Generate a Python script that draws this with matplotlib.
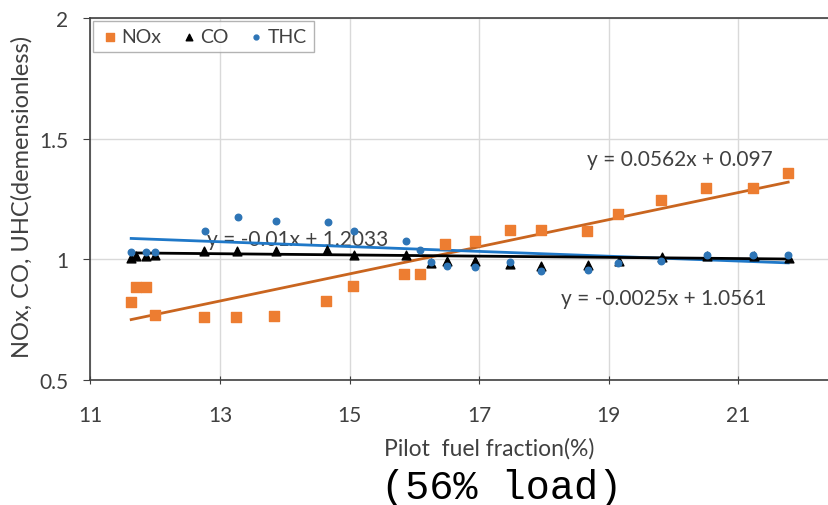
import matplotlib
matplotlib.use('Agg')
import matplotlib.pyplot as plt
import numpy as np

# data
nox_x = [11.63, 11.70, 11.86, 12.0, 12.75, 13.25, 13.83, 14.63, 15.05, 15.84, 16.09,
         16.48, 16.93, 17.47, 17.96, 18.67, 19.14, 19.80, 20.50, 21.22, 21.77]
nox_y = [0.825, 0.885, 0.885, 0.768, 0.76, 0.76, 0.767, 0.826, 0.89, 0.94, 0.94,
         1.065, 1.076, 1.12, 1.12, 1.117, 1.187, 1.246, 1.298, 1.298, 1.36]

co_x = [11.63, 11.70, 11.86, 12.0, 12.75, 13.26, 13.86, 14.65, 15.07, 15.87, 16.25,
        16.50, 16.94, 17.48, 17.96, 18.68, 19.16, 19.82, 20.51, 21.24, 21.78]
co_y = [1.005, 1.015, 1.015, 1.02, 1.034, 1.034, 1.036, 1.037, 1.02, 1.02, 0.986,
        0.993, 0.993, 0.982, 0.972, 0.975, 0.993, 1.01, 1.013, 1.013, 1.007]

thc_x = [11.63, 11.86, 12.0, 12.77, 13.28, 13.87, 14.66, 15.07, 15.87, 16.09, 16.25,
         16.50, 16.94, 17.47, 17.96, 18.68, 19.15, 19.80, 20.51, 21.23, 21.77]
thc_y = [1.03, 1.03, 1.03, 1.117, 1.177, 1.16, 1.155, 1.117, 1.076, 1.04, 0.99,
         0.972, 0.97, 0.99, 0.951, 0.955, 0.986, 0.993, 1.02, 1.02, 1.02]

# trendline coefficients as printed on the chart
nox_fit = (0.0562, 0.097)
co_fit = (-0.0025, 1.0561)
thc_fit = (-0.01, 1.2033)

ORANGE = '#ED7D31'
ORANGE_LINE = '#C9651F'
BLUE = '#2E75B6'
BLUE_LINE = '#1F78C8'
TXT = '#404040'

plt.rcParams['font.family'] = ['Lato', 'DejaVu Sans']

fig = plt.figure(figsize=(8.29, 5.06), dpi=100)
ax = fig.add_axes([0.109, 0.247, 0.891, 0.715])

fx = np.array([min(nox_x), max(nox_x)])
ax.plot(fx, nox_fit[0] * fx + nox_fit[1], color=ORANGE_LINE, lw=2.0, zorder=2)
ax.plot(fx, thc_fit[0] * fx + thc_fit[1], color=BLUE_LINE, lw=2.0, zorder=2)
ax.plot(fx, co_fit[0] * fx + co_fit[1], color='black', lw=2.0, zorder=2)

ax.scatter(nox_x, nox_y, marker='s', s=50, color=ORANGE, label='NOx', zorder=3)
ax.scatter(co_x, co_y, marker='^', s=40, color='black', label='CO', zorder=4)
ax.scatter(thc_x, thc_y, marker='o', s=22, color=BLUE, label='THC', zorder=4)

ax.text(20.1, 1.415, 'y = 0.0562x + 0.097', fontsize=15, color=TXT, ha='center', va='center')
ax.text(19.85, 0.842, 'y = -0.0025x + 1.0561', fontsize=15, color=TXT, ha='center', va='center')
ax.text(14.2, 1.083, 'y = -0.01x + 1.2033', fontsize=15, color=TXT, ha='center', va='center', zorder=1.5)

ax.set_xlim(11, 22.4)
ax.set_ylim(0.5, 2)
ax.set_xticks([11, 13, 15, 17, 19, 21])
ax.set_yticks([0.5, 1, 1.5, 2])
ax.set_yticklabels(['0.5', '1', '1.5', '2'])
ax.tick_params(labelsize=15, colors=TXT)
ax.tick_params(axis='x', direction='inout', length=6, pad=15)
ax.tick_params(axis='y', direction='out', length=5, pad=11)
ax.grid(True, color='#D9D9D9', lw=1)
ax.set_axisbelow(True)
for s in ['left', 'bottom', 'top']:
    ax.spines[s].set_color('#404040')
    ax.spines[s].set_linewidth(1.2)
ax.spines['right'].set_visible(False)

ax.set_xlabel('Pilot  fuel fraction(%)', fontsize=16.5, color=TXT, va='center')
ax.xaxis.set_label_coords(0.54, -0.188)
ax.set_ylabel('NOx, CO, UHC(demensionless)', fontsize=17, color=TXT, va='center')
ax.yaxis.set_label_coords(-0.093, 0.51)

leg = ax.legend(loc='upper left', ncol=3, fontsize=14, frameon=True, fancybox=False,
                handletextpad=0.1, columnspacing=0.9, borderaxespad=0.15,
                handlelength=1.0, markerscale=0.75, borderpad=0.35)
leg.get_frame().set_edgecolor('#A0A0A0')
for t in leg.get_texts():
    t.set_color(TXT)

fig.text(0.605, 0.035, '(56% load)', fontsize=29, family='Liberation Mono',
         ha='center', va='center', color='black')

fig.savefig('out.png', dpi=100)
